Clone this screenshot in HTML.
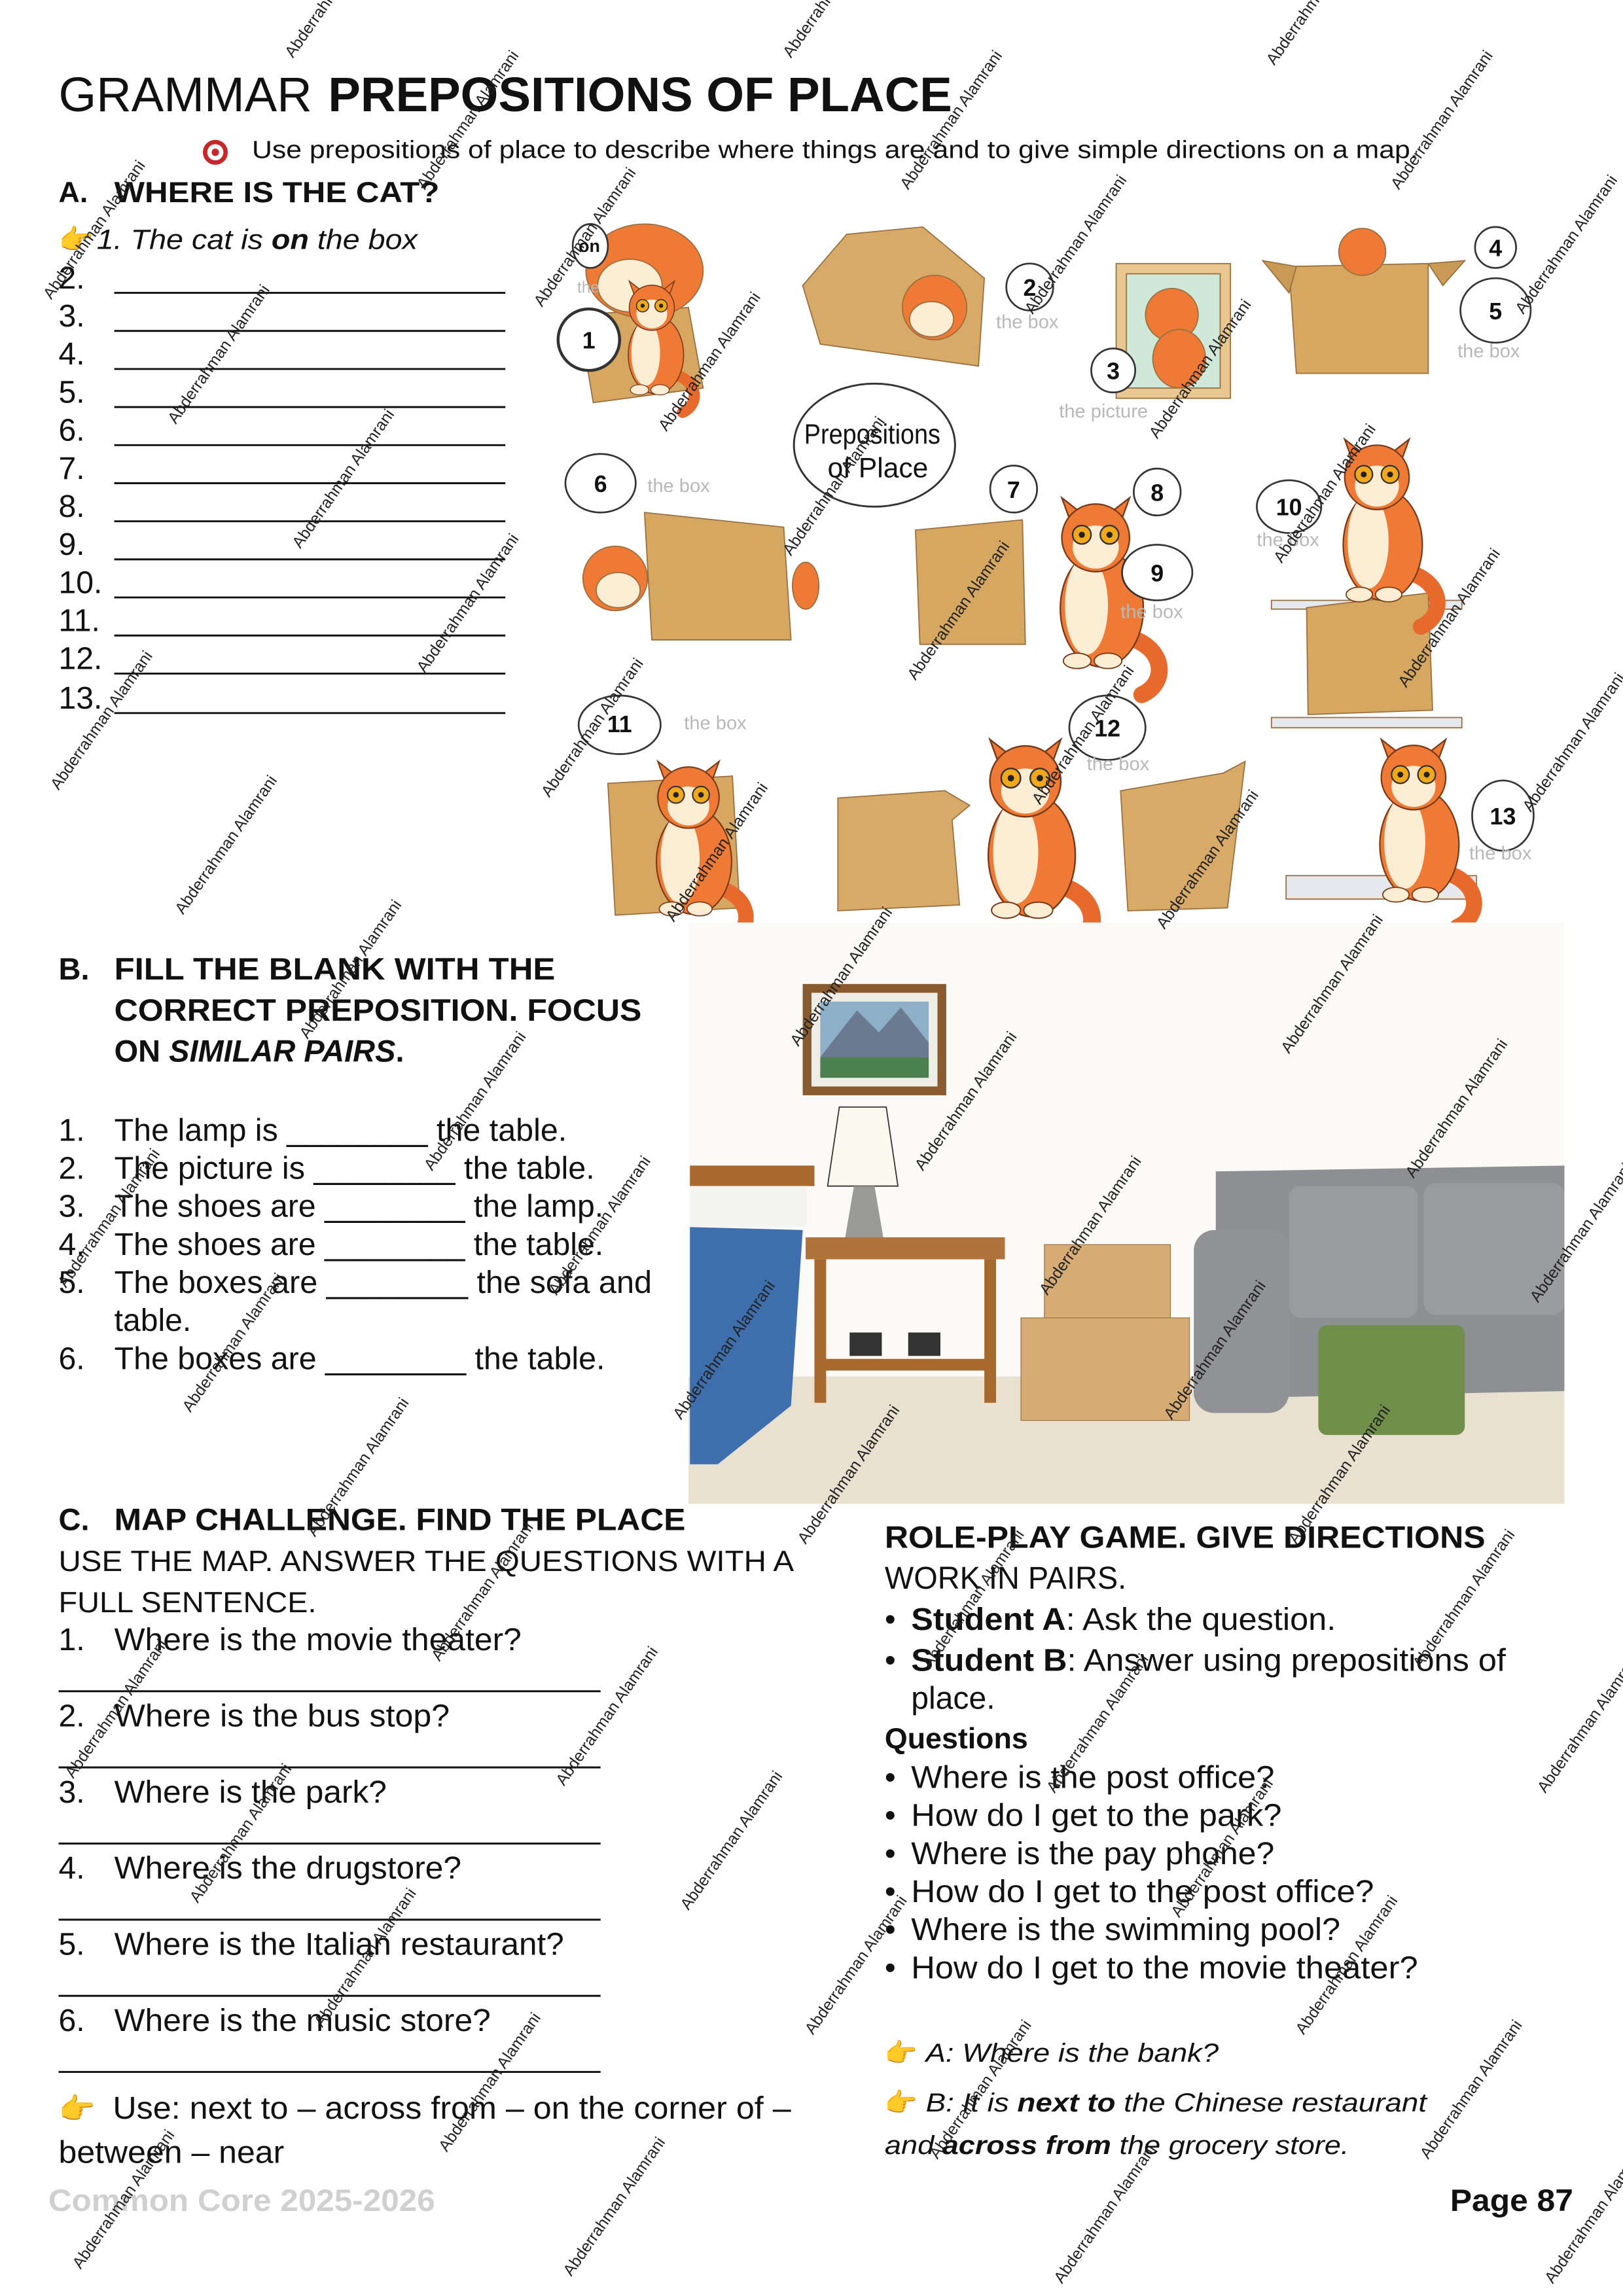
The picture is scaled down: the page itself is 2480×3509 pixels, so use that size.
<!DOCTYPE html>
<html><head><meta charset="utf-8">
<style>
html,body{margin:0;padding:0;background:#fff;}
svg{display:block;}
text{font-family:"Liberation Sans",sans-serif;fill:#111;}
.n{font-size:21.5px;}
.b{font-weight:bold;}
.wm{font-size:11px;fill:#222;}
</style></head><body>
<svg width="2480" height="3509" viewBox="0 0 1108 1568" preserveAspectRatio="none" xmlns="http://www.w3.org/2000/svg">
<defs>
<g id="cat">
  <path d="M18,-10 C45,-5 48,20 30,28" stroke="#e8692c" stroke-width="11" fill="none" stroke-linecap="round"/>
  <ellipse cx="4" cy="-28" rx="27" ry="38" fill="#ee7a35" stroke="#7a3a1a" stroke-width="1"/>
  <ellipse cx="-6" cy="-30" rx="14" ry="32" fill="#fbecd4"/>
  <path d="M-22,-100 L-14,-78 L-4,-86 Z M22,-100 L14,-78 L4,-86 Z" fill="#ee7a35" stroke="#7a3a1a" stroke-width="1"/>
  <circle cx="0" cy="-74" r="22" fill="#ee7a35" stroke="#7a3a1a" stroke-width="1"/>
  <ellipse cx="0" cy="-68" rx="15" ry="14" fill="#fbecd4"/>
  <circle cx="-9" cy="-76" r="6" fill="#f2a81b" stroke="#333" stroke-width="1"/>
  <circle cx="9" cy="-76" r="6" fill="#f2a81b" stroke="#333" stroke-width="1"/>
  <circle cx="-9" cy="-76" r="2" fill="#222"/><circle cx="9" cy="-76" r="2" fill="#222"/>
  <ellipse cx="-12" cy="6" rx="9" ry="5" fill="#fbecd4" stroke="#7a3a1a" stroke-width="0.8"/>
  <ellipse cx="8" cy="6" rx="9" ry="5" fill="#fbecd4" stroke="#7a3a1a" stroke-width="0.8"/>
</g>
</defs>

<!-- Title -->
<text x="40" y="76" font-size="33" textLength="173" lengthAdjust="spacingAndGlyphs">GRAMMAR</text>
<text x="224" y="76" font-size="33" class="b" textLength="426" lengthAdjust="spacingAndGlyphs">PREPOSITIONS OF PLACE</text>
<circle cx="147" cy="104" r="7" fill="#fff" stroke="#c8262b" stroke-width="3"/><circle cx="147" cy="104" r="2.5" fill="#c8262b"/>
<text x="172" y="108" font-size="17" textLength="796" lengthAdjust="spacingAndGlyphs">Use prepositions of place to describe where things are and to give simple directions on a map.</text>

<!-- Section A -->
<text x="40" y="138" font-size="20" class="b">A.</text>
<text x="78" y="138" font-size="20" class="b" textLength="222" lengthAdjust="spacingAndGlyphs">WHERE IS THE CAT?</text>
<text x="40" y="170" font-size="19" fill="#f0b020">👉</text>
<text x="66" y="170" font-size="19" font-style="italic" textLength="219" lengthAdjust="spacingAndGlyphs">1. The cat is <tspan font-weight="bold">on</tspan> the box</text>
<g>
<text x="40" y="197" class="n">2.</text><text x="40" y="223" class="n">3.</text><text x="40" y="249" class="n">4.</text>
<text x="40" y="275" class="n">5.</text><text x="40" y="301" class="n">6.</text><text x="40" y="327" class="n">7.</text>
<text x="40" y="353" class="n">8.</text><text x="40" y="379" class="n">9.</text><text x="40" y="405" class="n">10.</text>
<text x="40" y="431" class="n">11.</text><text x="40" y="457" class="n">12.</text><text x="40" y="484" class="n">13.</text>
</g>
<g stroke="#111" stroke-width="1.3">
<line x1="78" y1="200" x2="345" y2="200"/><line x1="78" y1="226" x2="345" y2="226"/><line x1="78" y1="252" x2="345" y2="252"/>
<line x1="78" y1="278" x2="345" y2="278"/><line x1="78" y1="304" x2="345" y2="304"/><line x1="78" y1="330" x2="345" y2="330"/>
<line x1="78" y1="356" x2="345" y2="356"/><line x1="78" y1="382" x2="345" y2="382"/><line x1="78" y1="408" x2="345" y2="408"/>
<line x1="78" y1="434" x2="345" y2="434"/><line x1="78" y1="460" x2="345" y2="460"/><line x1="78" y1="487" x2="345" y2="487"/>
</g>

<!-- Cat illustrations -->
<g stroke="#9a7040" stroke-width="0.8">
  <path d="M395,215 L470,210 L480,265 L405,275 Z" fill="#d6a760"/>
  <ellipse cx="440" cy="185" rx="40" ry="32" fill="#ee7a35"/>
  <ellipse cx="430" cy="195" rx="22" ry="18" fill="#fbecd4"/>
  <path d="M548,195 L578,160 L630,155 L672,190 L668,250 L560,235 Z" fill="#d8aa68"/>
  <circle cx="638" cy="210" r="22" fill="#ee7a35"/><ellipse cx="636" cy="218" rx="15" ry="12" fill="#fbecd4"/>
  <rect x="762" y="180" width="78" height="92" fill="#e8c890"/>
  <rect x="769" y="187" width="64" height="78" fill="#cfe8d8"/>
  <circle cx="800" cy="215" r="18" fill="#ee7a35"/><ellipse cx="805" cy="245" rx="18" ry="20" fill="#ee7a35"/>
  <path d="M880,182 L975,180 L975,255 L885,255 Z" fill="#d6a760"/>
  <path d="M862,178 L885,182 L880,200 Z M975,180 L1000,178 L985,195 Z" fill="#c89a55"/>
  <circle cx="930" cy="172" r="16" fill="#ee7a35"/>
  <ellipse cx="597" cy="304" rx="55" ry="42" fill="#fff" stroke="#333" stroke-width="1.3"/>
  <path d="M440,350 L535,360 L540,437 L445,437 Z" fill="#d6a760"/>
  <circle cx="420" cy="395" r="22" fill="#ee7a35"/><ellipse cx="422" cy="403" rx="15" ry="12" fill="#fbecd4"/>
  <ellipse cx="550" cy="400" rx="9" ry="16" fill="#ee7a35"/>
  <path d="M625,362 L698,355 L700,440 L628,440 Z" fill="#d6a760"/>
  <rect x="868" y="410" width="130" height="6" fill="#e5e8ec"/>
  <path d="M892,415 L975,405 L978,485 L893,488 Z" fill="#d6a760"/>
  <rect x="868" y="490" width="130" height="7" fill="#e5e8ec"/>
  <path d="M415,535 L500,530 L505,620 L420,625 Z" fill="#d6a760"/>
  <path d="M572,545 L645,540 L662,550 L650,560 L655,618 L572,622 Z" fill="#d8aa68"/>
  <path d="M765,540 L835,528 L850,520 L838,620 L770,622 Z" fill="#d8aa68"/>
  <rect x="878" y="598" width="130" height="16" fill="#e5e8ec"/>
</g>
<use href="#cat" transform="translate(445,262) scale(0.7)"/>
<use href="#cat" transform="translate(748,445) scale(1.05)"/>
<use href="#cat" transform="translate(940,400) scale(1.0)"/>
<use href="#cat" transform="translate(470,615) scale(0.95)"/>
<use href="#cat" transform="translate(700,615) scale(1.1)"/>
<use href="#cat" transform="translate(965,605) scale(1.0)"/>
<g fill="#fff" stroke="#333" stroke-width="1.2">
<circle cx="402" cy="232" r="21" stroke-width="2"/>
<ellipse cx="403" cy="168" rx="12" ry="15"/>
<circle cx="703" cy="196" r="16"/>
<circle cx="760" cy="253" r="15"/>
<circle cx="1021" cy="169" r="14"/>
<ellipse cx="1021" cy="212" rx="24" ry="22"/>
<ellipse cx="410" cy="330" rx="24" ry="20"/>
<circle cx="692" cy="334" r="16"/>
<circle cx="790" cy="336" r="16"/>
<ellipse cx="790" cy="391" rx="24" ry="19"/>
<ellipse cx="880" cy="346" rx="22" ry="18"/>
<ellipse cx="423" cy="495" rx="28" ry="20"/>
<ellipse cx="756" cy="497" rx="26" ry="22"/>
<ellipse cx="1026" cy="557" rx="21" ry="24"/>
</g>
<g font-size="16" text-anchor="middle">
<text x="402" y="238" class="b">1</text><text x="703" y="202" class="b">2</text><text x="760" y="259" class="b">3</text>
<text x="1021" y="175" class="b">4</text><text x="1021" y="218" class="b">5</text><text x="410" y="336" class="b">6</text>
<text x="692" y="340" class="b">7</text><text x="790" y="342" class="b">8</text><text x="790" y="397" class="b">9</text>
<text x="880" y="352" class="b">10</text><text x="423" y="500" class="b">11</text><text x="756" y="503" class="b">12</text>
<text x="1026" y="563" class="b">13</text>
</g>
<g font-size="13">
<text x="680" y="224" style="fill:#b8b8b8">the box</text><text x="723" y="285" style="fill:#b8b8b8">the picture</text>
<text x="995" y="244" style="fill:#b8b8b8">the box</text><text x="442" y="336" style="fill:#b8b8b8">the box</text>
<text x="765" y="422" style="fill:#b8b8b8">the box</text><text x="858" y="373" style="fill:#b8b8b8">the box</text>
<text x="467" y="498" style="fill:#b8b8b8">the box</text><text x="742" y="526" style="fill:#b8b8b8">the box</text>
<text x="1003" y="587" style="fill:#b8b8b8">the box</text><text x="394" y="200" style="fill:#b8b8b8" font-size="11">the</text>
</g>
<text x="549" y="303" font-size="19" textLength="93" lengthAdjust="spacingAndGlyphs">Prepositions</text>
<text x="565" y="326" font-size="19">of Place</text>
<text x="395" y="172" font-size="12" class="b">on</text>

<!-- Section B -->
<text x="40" y="669" font-size="21" class="b">B.</text>
<text x="78" y="669" font-size="21" class="b" textLength="301" lengthAdjust="spacingAndGlyphs">FILL THE BLANK WITH  THE</text>
<text x="78" y="697" font-size="21" class="b" textLength="360" lengthAdjust="spacingAndGlyphs">CORRECT PREPOSITION. FOCUS</text>
<text x="78" y="725" font-size="21" class="b">ON <tspan font-style="italic">SIMILAR PAIRS</tspan>.</text>
<g>
<text x="40" y="779" class="n">1.</text><text x="78" y="779" class="n" textLength="309" lengthAdjust="spacingAndGlyphs">The lamp is ________ the table.</text>
<text x="40" y="805" class="n">2.</text><text x="78" y="805" class="n" textLength="328" lengthAdjust="spacingAndGlyphs">The picture is ________ the table.</text>
<text x="40" y="831" class="n">3.</text><text x="78" y="831" class="n" textLength="334" lengthAdjust="spacingAndGlyphs">The shoes are ________ the lamp.</text>
<text x="40" y="857" class="n">4.</text><text x="78" y="857" class="n" textLength="334" lengthAdjust="spacingAndGlyphs">The shoes are ________ the table.</text>
<text x="40" y="883" class="n">5.</text><text x="78" y="883" class="n" textLength="367" lengthAdjust="spacingAndGlyphs">The boxes are ________ the sofa and</text>
<text x="78" y="909" class="n">table.</text>
<text x="40" y="935" class="n">6.</text><text x="78" y="935" class="n" textLength="335" lengthAdjust="spacingAndGlyphs">The boxes are ________ the table.</text>
</g>

<!-- Room -->
<rect x="470" y="630" width="598" height="397" fill="#fbfaf7"/>
<rect x="470" y="940" width="598" height="87" fill="#e9e0d0"/>
<rect x="548" y="672" width="98" height="76" fill="#8a5a30"/>
<rect x="554" y="678" width="86" height="64" fill="#f0ede6"/>
<rect x="560" y="684" width="74" height="52" fill="#8db0c8"/>
<path d="M560,722 L585,690 L600,705 L615,688 L634,712 L634,736 L560,736 Z" fill="#6a7a90"/>
<rect x="560" y="722" width="74" height="14" fill="#4d8050"/>
<path d="M573,756 L605,756 L613,810 L565,810 Z" fill="#fbf8f0" stroke="#333" stroke-width="0.8"/>
<path d="M583,810 L597,810 L603,845 L577,845 Z" fill="#9a9a98"/>
<rect x="550" y="845" width="136" height="15" fill="#b0743a"/>
<rect x="556" y="860" width="8" height="98" fill="#a8692f"/><rect x="672" y="860" width="8" height="98" fill="#a8692f"/>
<rect x="556" y="928" width="124" height="8" fill="#a8692f"/>
<rect x="580" y="910" width="22" height="16" fill="#333"/><rect x="620" y="910" width="22" height="16" fill="#333"/>
<rect x="471" y="796" width="85" height="14" fill="#a8692f"/>
<rect x="471" y="810" width="80" height="28" fill="#f4f4f2"/>
<path d="M471,838 L548,840 L540,960 L490,1000 L471,1000 Z" fill="#3f6ead"/>
<rect x="713" y="850" width="86" height="52" fill="#d6ac74" stroke="#a07a48" stroke-width="0.6"/>
<rect x="697" y="900" width="115" height="70" fill="#d6ac74" stroke="#a07a48" stroke-width="0.6"/>
<path d="M830,800 L1068,796 L1068,950 L830,955 Z" fill="#8d8f92"/>
<rect x="815" y="840" width="65" height="125" rx="14" fill="#909295"/>
<rect x="880" y="810" width="88" height="90" rx="8" fill="#999b9e"/>
<rect x="972" y="808" width="96" height="90" rx="8" fill="#999b9e"/>
<rect x="900" y="905" width="100" height="75" rx="6" fill="#6f8f4a"/>

<!-- Section C -->
<text x="40" y="1045" font-size="21" class="b">C.</text>
<text x="78" y="1045" font-size="21" class="b" textLength="390" lengthAdjust="spacingAndGlyphs">MAP CHALLENGE. FIND THE PLACE</text>
<text x="40" y="1073" font-size="20" textLength="502" lengthAdjust="spacingAndGlyphs">USE THE MAP. ANSWER THE QUESTIONS WITH A</text>
<text x="40" y="1101" font-size="20" textLength="176" lengthAdjust="spacingAndGlyphs">FULL SENTENCE.</text>
<g>
<text x="40" y="1127" class="n">1.</text><text x="78" y="1127" class="n" textLength="278" lengthAdjust="spacingAndGlyphs">Where is the movie theater?</text>
<text x="40" y="1179" class="n">2.</text><text x="78" y="1179" class="n" textLength="229" lengthAdjust="spacingAndGlyphs">Where is the bus stop?</text>
<text x="40" y="1231" class="n">3.</text><text x="78" y="1231" class="n" textLength="186" lengthAdjust="spacingAndGlyphs">Where is the park?</text>
<text x="40" y="1283" class="n">4.</text><text x="78" y="1283" class="n" textLength="237" lengthAdjust="spacingAndGlyphs">Where is the drugstore?</text>
<text x="40" y="1335" class="n">5.</text><text x="78" y="1335" class="n" textLength="307" lengthAdjust="spacingAndGlyphs">Where is the Italian restaurant?</text>
<text x="40" y="1387" class="n">6.</text><text x="78" y="1387" class="n" textLength="257" lengthAdjust="spacingAndGlyphs">Where is the music store?</text>
</g>
<g stroke="#111" stroke-width="1.3">
<line x1="40" y1="1155" x2="410" y2="1155"/><line x1="40" y1="1207" x2="410" y2="1207"/><line x1="40" y1="1259" x2="410" y2="1259"/>
<line x1="40" y1="1311" x2="410" y2="1311"/><line x1="40" y1="1363" x2="410" y2="1363"/><line x1="40" y1="1415" x2="410" y2="1415"/>
</g>
<text x="40" y="1447" font-size="20" style="fill:#f0b020">👉</text>
<text x="77" y="1447" class="n" textLength="463" lengthAdjust="spacingAndGlyphs">Use: next to – across from – on the corner of –</text>
<text x="40" y="1477" class="n" textLength="154" lengthAdjust="spacingAndGlyphs">between – near</text>
<text x="33" y="1510" font-size="21" class="b" style="fill:#d0d0d0" textLength="264" lengthAdjust="spacingAndGlyphs">Common Core 2025-2026</text>
<text x="990" y="1510" font-size="21" class="b" textLength="84" lengthAdjust="spacingAndGlyphs">Page 87</text>

<!-- Role play -->
<text x="604" y="1057" font-size="21" class="b" textLength="410" lengthAdjust="spacingAndGlyphs">ROLE-PLAY GAME. GIVE DIRECTIONS</text>
<text x="604" y="1085" class="n" textLength="165" lengthAdjust="spacingAndGlyphs">WORK IN PAIRS.</text>
<text x="604" y="1113" class="n">•</text><text x="622" y="1113" class="n" textLength="290" lengthAdjust="spacingAndGlyphs"><tspan font-weight="bold">Student A</tspan>: Ask the question.</text>
<text x="604" y="1141" class="n">•</text><text x="622" y="1141" class="n" textLength="406" lengthAdjust="spacingAndGlyphs"><tspan font-weight="bold">Student B</tspan>: Answer using prepositions of</text>
<text x="622" y="1167" class="n">place.</text>
<text x="604" y="1194" font-size="20" class="b">Questions</text>
<text x="604" y="1221" class="n">•</text><text x="622" y="1221" class="n" textLength="248" lengthAdjust="spacingAndGlyphs">Where is the post office?</text>
<text x="604" y="1247" class="n">•</text><text x="622" y="1247" class="n" textLength="253" lengthAdjust="spacingAndGlyphs">How do I get to the park?</text>
<text x="604" y="1273" class="n">•</text><text x="622" y="1273" class="n" textLength="248" lengthAdjust="spacingAndGlyphs">Where is the pay phone?</text>
<text x="604" y="1299" class="n">•</text><text x="622" y="1299" class="n" textLength="316" lengthAdjust="spacingAndGlyphs">How do I get to the post office?</text>
<text x="604" y="1325" class="n">•</text><text x="622" y="1325" class="n" textLength="293" lengthAdjust="spacingAndGlyphs">Where is the swimming pool?</text>
<text x="604" y="1351" class="n">•</text><text x="622" y="1351" class="n" textLength="346" lengthAdjust="spacingAndGlyphs">How do I get to the movie theater?</text>
<text x="604" y="1408" font-size="18" style="fill:#f0b020">👉</text>
<text x="632" y="1408" font-size="18" font-style="italic" textLength="200" lengthAdjust="spacingAndGlyphs">A: Where is the bank?</text>
<text x="604" y="1442" font-size="18" style="fill:#f0b020">👉</text>
<text x="632" y="1442" font-size="18" font-style="italic" textLength="342" lengthAdjust="spacingAndGlyphs">B: It is <tspan font-weight="bold">next to</tspan> the Chinese restaurant</text>
<text x="604" y="1471" font-size="18" font-style="italic" textLength="317" lengthAdjust="spacingAndGlyphs">and <tspan font-weight="bold">across from</tspan> the grocery store.</text>

<!-- Watermarks -->
<g class="wm">
<text class="wm" transform="translate(200,40) rotate(-55)">Abderrahman</text>
<text class="wm" transform="translate(540,40) rotate(-55)">Abderrahman</text>
<text class="wm" transform="translate(870,45) rotate(-55)">Abderrahman</text>
<text class="wm" transform="translate(290,130) rotate(-55)">Abderrahman Alamrani</text>
<text class="wm" transform="translate(620,130) rotate(-55)">Abderrahman Alamrani</text>
<text class="wm" transform="translate(955,130) rotate(-55)">Abderrahman Alamrani</text>
<text class="wm" transform="translate(35,205) rotate(-55)">Abderrahman Alamrani</text>
<text class="wm" transform="translate(370,210) rotate(-55)">Abderrahman Alamrani</text>
<text class="wm" transform="translate(705,215) rotate(-55)">Abderrahman Alamrani</text>
<text class="wm" transform="translate(1040,215) rotate(-55)">Abderrahman Alamrani</text>
<text class="wm" transform="translate(120,290) rotate(-55)">Abderrahman Alamrani</text>
<text class="wm" transform="translate(455,295) rotate(-55)">Abderrahman Alamrani</text>
<text class="wm" transform="translate(790,300) rotate(-55)">Abderrahman Alamrani</text>
<text class="wm" transform="translate(205,375) rotate(-55)">Abderrahman Alamrani</text>
<text class="wm" transform="translate(540,380) rotate(-55)">Abderrahman Alamrani</text>
<text class="wm" transform="translate(875,385) rotate(-55)">Abderrahman Alamrani</text>
<text class="wm" transform="translate(290,460) rotate(-55)">Abderrahman Alamrani</text>
<text class="wm" transform="translate(625,465) rotate(-55)">Abderrahman Alamrani</text>
<text class="wm" transform="translate(960,470) rotate(-55)">Abderrahman Alamrani</text>
<text class="wm" transform="translate(40,540) rotate(-55)">Abderrahman Alamrani</text>
<text class="wm" transform="translate(375,545) rotate(-55)">Abderrahman Alamrani</text>
<text class="wm" transform="translate(710,550) rotate(-55)">Abderrahman Alamrani</text>
<text class="wm" transform="translate(1045,555) rotate(-55)">Abderrahman Alamrani</text>
<text class="wm" transform="translate(125,625) rotate(-55)">Abderrahman Alamrani</text>
<text class="wm" transform="translate(460,630) rotate(-55)">Abderrahman Alamrani</text>
<text class="wm" transform="translate(795,635) rotate(-55)">Abderrahman Alamrani</text>
<text class="wm" transform="translate(210,710) rotate(-55)">Abderrahman Alamrani</text>
<text class="wm" transform="translate(545,715) rotate(-55)">Abderrahman Alamrani</text>
<text class="wm" transform="translate(880,720) rotate(-55)">Abderrahman Alamrani</text>
<text class="wm" transform="translate(295,800) rotate(-55)">Abderrahman Alamrani</text>
<text class="wm" transform="translate(630,800) rotate(-55)">Abderrahman Alamrani</text>
<text class="wm" transform="translate(965,805) rotate(-55)">Abderrahman Alamrani</text>
<text class="wm" transform="translate(45,880) rotate(-55)">Abderrahman Alamrani</text>
<text class="wm" transform="translate(380,885) rotate(-55)">Abderrahman Alamrani</text>
<text class="wm" transform="translate(715,885) rotate(-55)">Abderrahman Alamrani</text>
<text class="wm" transform="translate(1050,890) rotate(-55)">Abderrahman Alamrani</text>
<text class="wm" transform="translate(130,965) rotate(-55)">Abderrahman Alamrani</text>
<text class="wm" transform="translate(465,970) rotate(-55)">Abderrahman Alamrani</text>
<text class="wm" transform="translate(800,970) rotate(-55)">Abderrahman Alamrani</text>
<text class="wm" transform="translate(215,1050) rotate(-55)">Abderrahman Alamrani</text>
<text class="wm" transform="translate(550,1055) rotate(-55)">Abderrahman Alamrani</text>
<text class="wm" transform="translate(885,1055) rotate(-55)">Abderrahman Alamrani</text>
<text class="wm" transform="translate(300,1135) rotate(-55)">Abderrahman Alamrani</text>
<text class="wm" transform="translate(635,1140) rotate(-55)">Abderrahman Alamrani</text>
<text class="wm" transform="translate(970,1140) rotate(-55)">Abderrahman Alamrani</text>
<text class="wm" transform="translate(50,1215) rotate(-55)">Abderrahman Alamrani</text>
<text class="wm" transform="translate(385,1220) rotate(-55)">Abderrahman Alamrani</text>
<text class="wm" transform="translate(720,1225) rotate(-55)">Abderrahman Alamrani</text>
<text class="wm" transform="translate(1055,1225) rotate(-55)">Abderrahman Alamrani</text>
<text class="wm" transform="translate(135,1300) rotate(-55)">Abderrahman Alamrani</text>
<text class="wm" transform="translate(470,1305) rotate(-55)">Abderrahman Alamrani</text>
<text class="wm" transform="translate(805,1310) rotate(-55)">Abderrahman Alamrani</text>
<text class="wm" transform="translate(220,1385) rotate(-55)">Abderrahman Alamrani</text>
<text class="wm" transform="translate(555,1390) rotate(-55)">Abderrahman Alamrani</text>
<text class="wm" transform="translate(890,1390) rotate(-55)">Abderrahman Alamrani</text>
<text class="wm" transform="translate(305,1470) rotate(-55)">Abderrahman Alamrani</text>
<text class="wm" transform="translate(640,1475) rotate(-55)">Abderrahman Alamrani</text>
<text class="wm" transform="translate(975,1475) rotate(-55)">Abderrahman Alamrani</text>
<text class="wm" transform="translate(55,1550) rotate(-55)">Abderrahman Alamrani</text>
<text class="wm" transform="translate(390,1555) rotate(-55)">Abderrahman Alamrani</text>
<text class="wm" transform="translate(725,1560) rotate(-55)">Abderrahman Alamrani</text>
<text class="wm" transform="translate(1060,1560) rotate(-55)">Abderrahman Alamrani</text>
</g>
</svg>
</body></html>
